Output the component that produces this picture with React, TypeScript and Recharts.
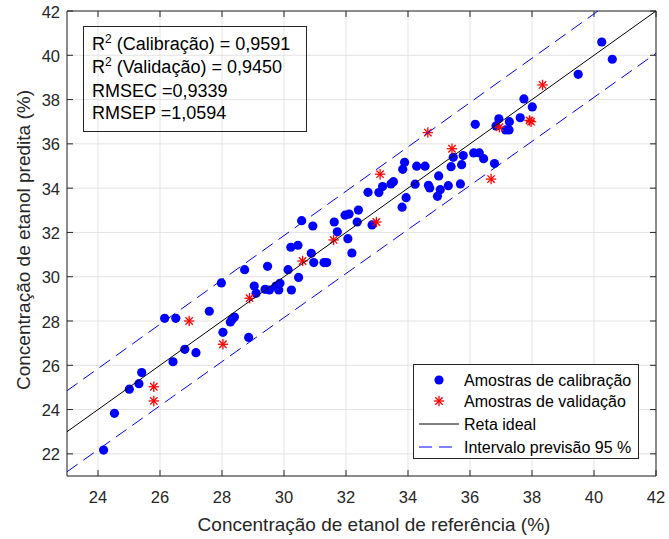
import React from 'react';
import { CartesianGrid, Legend, Scatter, ScatterChart, XAxis, YAxis } from 'recharts';

// amostras de calibração (referência x predita)
const calRef = [
  24.18, 24.53, 25.01, 25.32, 25.41, 26.42, 26.8, 27.16, 28.03, 26.15, 26.51, 27.59, 27.98, 28.27,
  28.33, 28.4, 28.86, 28.73, 29.04, 29.1, 29.47, 29.39, 29.53, 29.74, 29.87, 29.83, 30.13, 30.24,
  30.22, 30.45, 30.47, 30.88, 30.96, 31.29, 31.38, 30.57, 30.93, 31.72, 31.62, 32.06, 32.19, 31.97,
  32.1, 32.4, 32.36, 32.84, 32.71, 33.06, 33.18, 33.45, 33.53, 33.81, 33.94, 34.23, 36.17, 35.46,
  35.78, 36.12, 36.3, 36.44, 36.79, 33.89, 33.83, 34.28, 34.55, 35.39, 35.73, 34.99, 34.66, 34.7,
  35.04, 34.95, 35.3, 35.69, 40.25, 40.59, 39.49, 37.74, 38.01, 37.62, 36.93, 37.27, 36.84, 37.15,
  37.26,
];
const calPred = [
  22.17, 23.83, 24.92, 25.17, 25.67, 26.16, 26.72, 26.57, 27.49, 28.12, 28.12, 28.44, 29.72, 27.96,
  28.08, 28.18, 27.26, 30.32, 29.58, 29.25, 30.47, 29.43, 29.4, 29.58, 29.7, 29.4, 30.32, 29.4,
  31.33, 31.42, 29.97, 31.06, 30.64, 30.64, 30.64, 32.53, 32.29, 32.03, 32.47, 31.72, 31.07, 32.78,
  32.83, 33.01, 32.47, 32.34, 33.81, 33.8, 34.07, 34.19, 34.29, 33.14, 33.57, 34.18, 36.88, 35.39,
  35.47, 35.59, 35.59, 35.33, 35.11, 35.17, 34.85, 34.99, 34.99, 34.97, 35.06, 34.55, 34.13, 34.01,
  33.93, 33.63, 34.11, 34.19, 40.6, 39.82, 39.14, 38.03, 37.67, 37.18, 37.13, 37.0, 36.81, 36.63,
  36.63,
];

// amostras de validação
const valRef = [25.8, 25.8, 28.03, 26.94, 28.89, 30.6, 31.6, 32.98, 33.1, 34.64, 35.42, 36.68, 36.95, 37.92, 37.97, 38.34];
const valPred = [25.03, 24.39, 26.95, 28.0, 29.03, 30.71, 31.66, 32.47, 34.63, 36.51, 35.78, 34.41, 36.75, 37.06, 37.0, 38.66];

// reta ideal e limites do intervalo de previsão
const idealX = [23, 42];
const idealY = [23, 42];
const upperX = [23, 40.13];
const upperY = [24.85, 42];
const lowerX = [23, 42];
const lowerY = [21.19, 40.09];

const xTicks = [24, 26, 28, 30, 32, 34, 36, 38, 40, 42];
const yTicks = [22, 24, 26, 28, 30, 32, 34, 36, 38, 40, 42];

const statLabels = ['R', 'R', 'RMSEC', 'RMSEP'];
const statSup = ['2', '2', '', ''];
const statRest = [' (Calibração) = 0,9591', ' (Validação) = 0,9450', ' =0,9339', ' =1,0594'];

const legendLabels = ['Amostras de calibração', 'Amostras de validação', 'Reta ideal', 'Intervalo previsão 95 %'];

const FONT = "'Liberation Sans', Arial, Helvetica, sans-serif";
const AXIS = '#262626';
const BLUE = '#0000ff';
const RED = '#ff0000';
const DASH = '13 7';
const TICK = 6;

const toPoints = (xs: number[], ys: number[]) => xs.map((x, i) => ({ x, y: ys[i] }));

const calData = toPoints(calRef, calPred);
const valData = toPoints(valRef, valPred);
const idealData = toPoints(idealX, idealY);
const upperData = toPoints(upperX, upperY);
const lowerData = toPoints(lowerX, lowerY);

const BlueDot = (p: any) => <circle cx={p.cx} cy={p.cy} r={4.6} fill={BLUE} />;

const Asterisk = ({ cx, cy }: { cx: number; cy: number }) => {
  const a = 5.2;
  const d = 3.7;
  return (
    <g stroke={RED} strokeWidth={1.3}>
      <line x1={cx - a} x2={cx + a} y1={cy} y2={cy} />
      <line x1={cx} x2={cx} y1={cy - a} y2={cy + a} />
      <line x1={cx - d} x2={cx + d} y1={cy - d} y2={cy + d} />
      <line x1={cx - d} x2={cx + d} y1={cy + d} y2={cy - d} />
    </g>
  );
};

const NoMark = () => <g />;

const BottomTick = ({ x, y, payload }: any) => (
  <g>
    <line x1={x} x2={x} y1={y} y2={y - TICK} stroke={AXIS} />
    <text x={x} y={y + 15} dy="0.71em" textAnchor="middle" fill={AXIS} fontSize={16.5} fontFamily={FONT}>
      {payload.value}
    </text>
  </g>
);

const TopTick = ({ x, y }: any) => <line x1={x} x2={x} y1={y} y2={y + TICK} stroke={AXIS} />;

const LeftTick = ({ x, y, payload }: any) => (
  <g>
    <line x1={x} x2={x + TICK} y1={y} y2={y} stroke={AXIS} />
    <text x={x - 7} y={y} dy="0.4em" textAnchor="end" fill={AXIS} fontSize={16.5} fontFamily={FONT}>
      {payload.value}
    </text>
  </g>
);

const RightTick = ({ x, y }: any) => <line x1={x} x2={x - TICK} y1={y} y2={y} stroke={AXIS} />;

const LegendBox = () => {
  const rows = [16, 37, 60, 83];
  return (
    <svg width={226} height={95} style={{ display: 'block' }}>
      <rect x={0.5} y={0.5} width={225} height={94} fill="#fff" stroke={AXIS} />
      <circle cx={26} cy={rows[0]} r={4.6} fill={BLUE} />
      <Asterisk cx={26} cy={rows[1]} />
      <line x1={6} x2={46} y1={rows[2]} y2={rows[2]} stroke="#000" />
      <line x1={6} x2={46} y1={rows[3]} y2={rows[3]} stroke={BLUE} strokeDasharray={DASH} />
      {legendLabels.map((label, i) => (
        <text key={label} x={51} y={rows[i]} dy="0.36em" fontSize={16} fontFamily={FONT} fill="#000">
          {label}
        </text>
      ))}
    </svg>
  );
};

export default function App() {
  const statBase = [50, 72.7, 96.7, 119.3];
  return (
    <div style={{ position: 'absolute', left: 0, top: 0, width: 669, height: 539, background: '#fff' }}>
      <ScatterChart width={669} height={539} margin={{ top: 10, right: 12, bottom: 0, left: 0 }}>
        <CartesianGrid stroke="#e3e3e3" />
        <XAxis
          xAxisId={0}
          type="number"
          dataKey="x"
          domain={[23, 42]}
          ticks={xTicks}
          interval={0}
          allowDataOverflow
          height={63}
          tickSize={0}
          tickMargin={0}
          tickLine={false}
          tick={BottomTick}
          axisLine={{ stroke: AXIS }}
        />
        <XAxis
          xAxisId="top"
          orientation="top"
          type="number"
          dataKey="x"
          domain={[23, 42]}
          ticks={xTicks}
          interval={0}
          allowDataOverflow
          height={1}
          tickSize={0}
          tickMargin={0}
          tickLine={false}
          tick={TopTick}
          axisLine={{ stroke: AXIS }}
        />
        <YAxis
          yAxisId={0}
          type="number"
          dataKey="y"
          domain={[21, 42]}
          ticks={yTicks}
          interval={0}
          allowDataOverflow
          width={67}
          tickSize={0}
          tickMargin={0}
          tickLine={false}
          tick={LeftTick}
          axisLine={{ stroke: AXIS }}
        />
        <YAxis
          yAxisId="right"
          orientation="right"
          type="number"
          dataKey="y"
          domain={[21, 42]}
          ticks={yTicks}
          interval={0}
          allowDataOverflow
          width={1}
          tickSize={0}
          tickMargin={0}
          tickLine={false}
          tick={RightTick}
          axisLine={{ stroke: AXIS }}
        />
        <Scatter data={calData} shape={BlueDot} isAnimationActive={false} />
        <Scatter data={valData} shape={(p: any) => <Asterisk cx={p.cx} cy={p.cy} />} isAnimationActive={false} />
        <Scatter
          data={idealData}
          shape={NoMark}
          line={{ stroke: '#000', strokeWidth: 1 }}
          lineType="joint"
          isAnimationActive={false}
        />
        <Scatter
          data={upperData}
          shape={NoMark}
          line={{ stroke: BLUE, strokeWidth: 1, strokeDasharray: DASH }}
          lineType="joint"
          isAnimationActive={false}
        />
        <Scatter
          data={lowerData}
          shape={NoMark}
          line={{ stroke: BLUE, strokeWidth: 1, strokeDasharray: DASH }}
          lineType="joint"
          isAnimationActive={false}
        />
        <Legend
          layout="vertical"
          align="center"
          verticalAlign="middle"
          content={LegendBox}
          wrapperStyle={{ left: 413, top: 364, width: 226, height: 95 }}
        />
      </ScatterChart>
      <svg
        width={669}
        height={539}
        style={{ position: 'absolute', left: 0, top: 0, pointerEvents: 'none' }}
        fontFamily={FONT}
      >
        <rect x={83.5} y={26.5} width={223} height={105} fill="none" stroke={AXIS} />
        {statLabels.map((label, i) => (
          <text key={i} x={92} y={statBase[i]} fontSize={18} fill="#000">
            {label}
            {statSup[i] ? (
              <tspan dy={-7} fontSize={12}>
                {statSup[i]}
              </tspan>
            ) : null}
            <tspan dy={statSup[i] ? 7 : 0}>{statRest[i]}</tspan>
          </text>
        ))}
        <text x={374} y={530.5} textAnchor="middle" fontSize={19} fill={AXIS}>
          Concentração de etanol de referência (%)
        </text>
        <text x={30} y={240} textAnchor="middle" fontSize={19} fill={AXIS} transform="rotate(-90 30 240)">
          Concentração de etanol predita (%)
        </text>
      </svg>
    </div>
  );
}
